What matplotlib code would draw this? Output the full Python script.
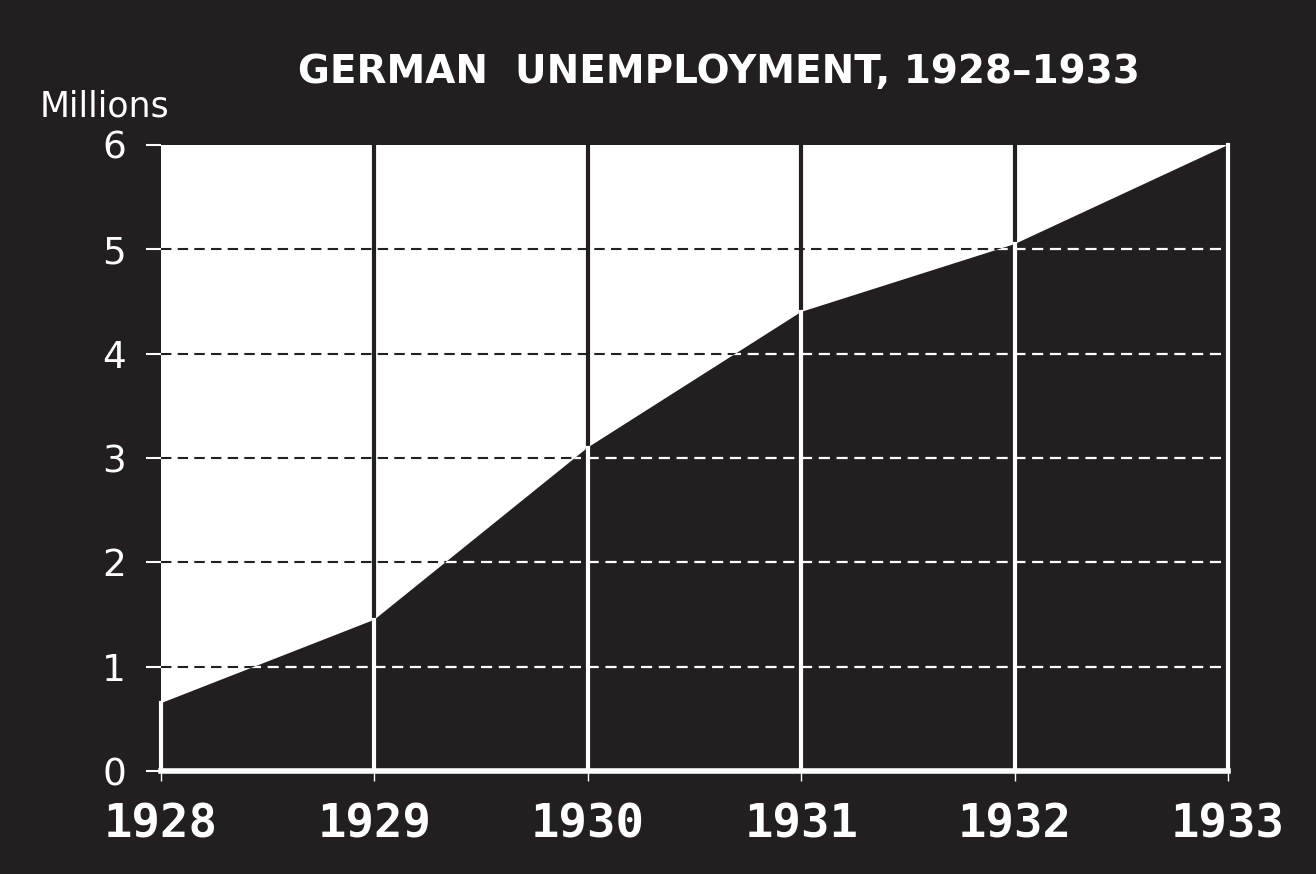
import matplotlib.pyplot as plt
from matplotlib.patches import Polygon

# Daten
years = [1928, 1929, 1930, 1931, 1932, 1933]
unemployed = [0.65, 1.45, 3.1, 4.4, 5.05, 6.0]
y_ticks = [0, 1, 2, 3, 4, 5, 6]

dark = '#231f20'

fig = plt.figure(figsize=(13.16, 8.74), dpi=100, facecolor=dark)
ax = fig.add_axes([0.1223, 0.1178, 0.8108, 0.7163])
ax.set_facecolor('white')
ax.set_xlim(years[0], years[-1])
ax.set_ylim(0, 6)

# schwarze Gitterlinien im weissen Bereich
for yr in years[1:-1]:
    ax.axvline(yr, color=dark, lw=3, zorder=1)
for yv in y_ticks[1:-1]:
    ax.axhline(yv, color=dark, lw=1.5, ls=(0, (5, 3)), zorder=1)

# Flaeche unter der Kurve
verts = [(years[0], 0)] + list(zip(years, unemployed)) + [(years[-1], 0)]
poly = Polygon(verts, closed=True, facecolor=dark, edgecolor='none', zorder=2)
ax.add_patch(poly)

# weisse Gitterlinien innerhalb der Flaeche
for yv in y_ticks[1:-1]:
    ln, = ax.plot([years[0], years[-1]], [yv, yv], color='white', lw=1.6,
                  ls=(0, (5, 3)), zorder=3)
    ln.set_clip_path(poly)
for yr, v in zip(years, unemployed):
    ax.plot([yr, yr], [0, v], color='white', lw=3, zorder=4, clip_on=False)
ax.plot([years[0], years[-1]], [0, 0], color='white', lw=4, zorder=4,
        clip_on=False, solid_capstyle='projecting')

for s in ax.spines.values():
    s.set_visible(False)

ax.set_yticks(y_ticks)
ax.set_yticklabels([str(t) for t in y_ticks], fontsize=27, color='white',
                   family='DejaVu Sans')
ax.tick_params(axis='y', colors='white', length=11, width=1.5, pad=14,
               direction='out')
ax.set_xticks(years)
ax.set_xticklabels([str(y) for y in years], fontsize=34, color='white',
                   family='DejaVu Sans Mono', fontweight='bold')
ax.tick_params(axis='x', colors='white', length=7, width=1, pad=16,
               direction='out')

fig.text(0.546, 0.918, 'GERMAN  UNEMPLOYMENT, 1928\u20131933', color='white',
         fontsize=28, fontweight='heavy', ha='center', va='center')
fig.text(0.030, 0.878, 'Millions', color='white', fontsize=25,
         ha='left', va='center')

fig.savefig('out.png', dpi=100, facecolor=dark)
